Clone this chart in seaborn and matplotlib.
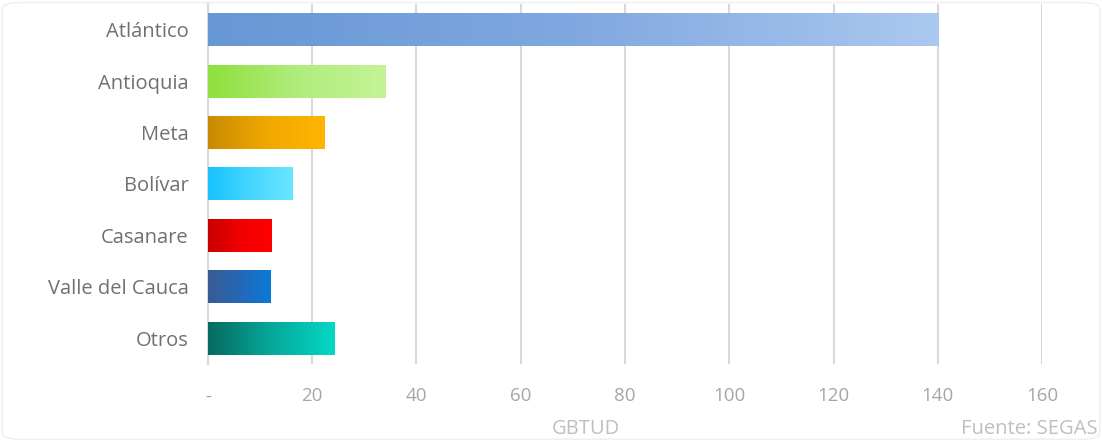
import matplotlib
matplotlib.use('Agg')
import matplotlib.pyplot as plt
import matplotlib.colors as mcolors
from matplotlib.patches import FancyBboxPatch
import numpy as np
import pandas as pd
import seaborn as sns

# datos (GBTUD)
departamentos = ['Atlántico', 'Antioquia', 'Meta', 'Bolívar', 'Casanare', 'Valle del Cauca', 'Otros']
consumo = [140.2, 34.0, 22.4, 16.3, 12.1, 11.9, 24.2]
x_ticks = [0, 20, 40, 60, 80, 100, 120, 140, 160]
x_tick_labels = ['-', '20', '40', '60', '80', '100', '120', '140', '160']
# gradiente izquierda -> derecha de cada barra
gradientes = [
    ['#6797d5', '#80a8e0', '#abc8ef'],
    ['#8ee03e', '#b0ec7c', '#c5f396'],
    ['#c98a02', '#f0a800', '#ffb500'],
    ['#17c2ff', '#46d6ff', '#68e6ff'],
    ['#c80000', '#f00000', '#ff0000'],
    ['#3a5b92', '#2468b8', '#0a7ad6'],
    ['#066a62', '#06a89a', '#05d8c6'],
]

sns.set_theme(style='white')
plt.rcParams['font.family'] = ['Open Sans', 'DejaVu Sans']

df = pd.DataFrame({'dep': departamentos, 'val': consumo})

fig = plt.figure(figsize=(11.02, 4.41), dpi=100)
ax = fig.add_axes([0.1887, 0.175, 0.7569, 0.816])

sns.barplot(data=df, x='val', y='dep', orient='h', ax=ax, width=0.64,
            color='white', edgecolor='none', zorder=3)

# rellenar cada barra con su degradado
for patch, cols in zip(ax.patches, gradientes):
    x0, y0 = patch.get_x(), patch.get_y()
    w, h = patch.get_width(), patch.get_height()
    cmap = mcolors.LinearSegmentedColormap.from_list('g', cols)
    grad = np.linspace(0, 1, 256).reshape(1, -1)
    im = ax.imshow(grad, cmap=cmap, aspect='auto', extent=[x0, x0 + w, y0 + h, y0],
                   zorder=4, interpolation='bilinear')
    im.set_clip_path(patch)

ax.set_xlim(0, 160)
ax.set_ylim(6.5, -0.5)
ax.set_xticks(x_ticks)
ax.set_xticklabels(x_tick_labels)
ax.xaxis.grid(True, color='#d9d9d9', linewidth=1.5, zorder=0)
ax.yaxis.grid(False)
for s in ['top', 'right', 'bottom']:
    ax.spines[s].set_visible(False)
ax.spines['left'].set_color('#d9d9d9')
ax.spines['left'].set_linewidth(1.5)
ax.tick_params(axis='x', colors='#a6a6a6', labelsize=13.5, length=0, pad=17)
ax.tick_params(axis='y', colors='#707070', labelsize=14.5, length=0, pad=14)
ax.set_xlabel('')
ax.set_ylabel('')

fig.text(0.532, 0.004, 'GBTUD', color='#bfbfbf', fontsize=14.5, ha='center', va='bottom')
fig.text(0.996, 0.004, 'Fuente: SEGAS', color='#bfbfbf', fontsize=14.5, ha='right', va='bottom')

fig.patches.append(FancyBboxPatch((0.002, 0.004), 0.996, 0.99, boxstyle='round,pad=0,rounding_size=0.015',
                                  transform=fig.transFigure, fill=False, edgecolor='#eeeeee', linewidth=1))

fig.savefig('out.png', dpi=100)
